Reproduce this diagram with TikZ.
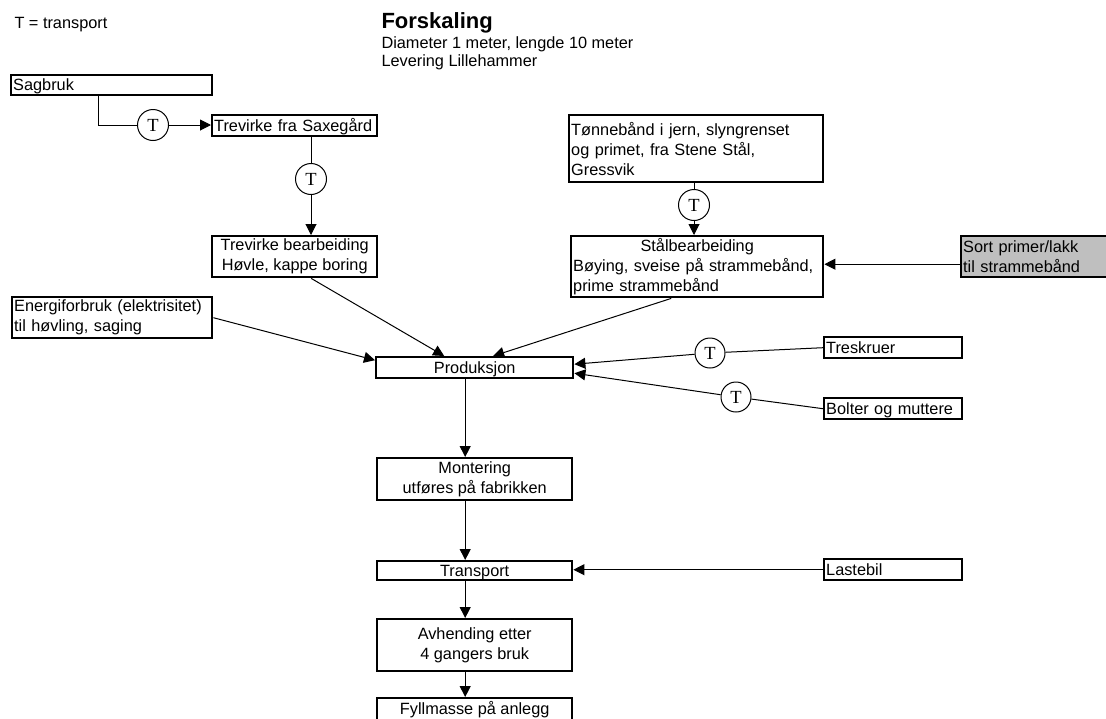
\documentclass[tikz,border=0pt]{standalone}
\usepackage{fontspec}
\setmainfont{Liberation Sans}
\newfontfamily\serifT{Liberation Serif}
\usetikzlibrary{arrows.meta}

\begin{document}
\begin{tikzpicture}[
    x=1pt,y=-1pt,
    >={Triangle[length=11pt,width=11pt]},
    line width=1pt,
    every node/.style={font=\fontsize{16.3}{20}\selectfont},
    box/.style={draw,line width=2.4pt,fill=white,anchor=north west,
        inner xsep=2pt,inner ysep=0pt},
    lbox/.style={box,align=left},
    cbox/.style={box,align=center},
    one/.style={text height=11.5pt,text depth=0pt},
    tcirc/.style={circle,draw,fill=white,line width=1pt,inner sep=0pt,
        minimum size=31pt,font=\serifT\fontsize{18.5}{18.5}\selectfont},
    head/.style={anchor=base west,inner sep=0pt}
  ]
  \useasboundingbox (0,0) rectangle (1106,718);
  \clip (0,0) rectangle (1106,718);

  % header
  \node[head] (legend) at (14,28) {T = transport};
  \node[head,font=\fontsize{22}{24}\selectfont\bfseries] (title) at (381,28) {Forskaling};
  \node[head] (dim) at (381,48) {Diameter 1 meter, lengde 10 meter};
  \node[head] (lev) at (381,66) {Levering Lillehammer};

  % tre
  \node[lbox,one,text width=197pt,minimum height=20pt] (sagbruk) at (10,74) {Sagbruk};
  \node[lbox,one,text width=161pt,minimum height=21pt] (saxegard) at (211,114) {Trevirke fra Saxegård};
  \node[cbox,minimum width=165pt,minimum height=41pt] (bearb) at (211,235)
      {Trevirke bearbeiding\\Høvle, kappe boring};
  \node[lbox,text width=196pt,minimum height=41pt] (energi) at (11,296)
      {Energiforbruk (elektrisitet)\\til høvling, saging};

  % staal
  \node[lbox,text width=250pt,minimum height=67pt] (tonne) at (568,114)
      {Tønnebånd i jern, slyngrenset\\og primet, fra Stene Stål,\\Gressvik};
  \node[lbox,text width=248pt,minimum height=61pt] (staal) at (570,235)
      {{\centering Stålbearbeiding\par}Bøying, sveise på strammebånd,\\prime strammebånd};
  \node[lbox,text width=196pt,minimum height=41pt,fill=black!25] (primer) at (960,235)
      {Sort primer/lakk\\til strammebånd};

  % hovedlinje
  \node[cbox,one,minimum width=197pt,minimum height=21pt] (prod) at (375,356) {Produksjon};
  \node[lbox,one,text width=134pt,minimum height=21pt] (treskruer) at (823,336) {Treskruer};
  \node[lbox,one,text width=134pt,minimum height=21pt] (bolter) at (823,397) {Bolter og muttere};
  \node[cbox,minimum width=195pt,minimum height=42pt] (montering) at (376,457)
      {Montering\\utføres på fabrikken};
  \node[cbox,one,minimum width=195pt,minimum height=19pt] (transport) at (376,560) {Transport};
  \node[lbox,one,text width=134pt,minimum height=21pt] (lastebil) at (823,558) {Lastebil};
  \node[cbox,minimum width=195pt,minimum height=52pt] (avhending) at (376,618)
      {Avhending etter\\4 gangers bruk};
  \node[cbox,one,minimum width=195pt,minimum height=22pt] (fyll) at (376,697) {Fyllmasse på anlegg};

  % transport
  \node[tcirc] (c1) at (153,125) {T};
  \node[tcirc] (c2) at (311,179) {T};
  \node[tcirc] (c3) at (694,205) {T};
  \node[tcirc,minimum size=30pt] (c4) at (710,353) {T};
  \node[tcirc,minimum size=30pt] (c5) at (736,397) {T};

  \draw ([xshift=88pt]sagbruk.south west) |- (c1);
  \draw (saxegard.south -| c2) -- (c2);
  \draw (tonne.south -| c3) -- (c3);
  \draw (treskruer.west) -- (c4);
  \draw (bolter.west) -- (c5);

  \begin{scope}[->]
    \draw (c1) -- (c1 -| saxegard.west);
    \draw (c2) -- (c2 |- bearb.north);
    \draw (c3) -- (c3 |- staal.north);
    \draw ([yshift=-7.5pt]primer.west) -- ([yshift=-7.5pt]primer.west -| staal.east);
    \draw ([xshift=16.5pt]bearb.south) -- ([xshift=-30.5pt]prod.north);
    \draw ([xshift=-26pt]staal.south) -- ([xshift=18.5pt]prod.north);
    \draw (energi.east) -- ([yshift=7.5pt]prod.west);
    \draw (c4) -- ([yshift=3.5pt]prod.east);
    \draw (c5) -- ([yshift=-5.5pt]prod.east);
    \draw ([xshift=-9.5pt]prod.south) -- ([xshift=-9.5pt]montering.north);
    \draw ([xshift=-9.5pt]montering.south) -- ([xshift=-9.5pt]transport.north);
    \draw (lastebil.west) -- (lastebil.west -| transport.east);
    \draw ([xshift=-9.5pt]transport.south) -- ([xshift=-9.5pt]avhending.north);
    \draw ([xshift=-9.5pt]avhending.south) -- ([xshift=-9.5pt]fyll.north);
  \end{scope}
\end{tikzpicture}
\end{document}
